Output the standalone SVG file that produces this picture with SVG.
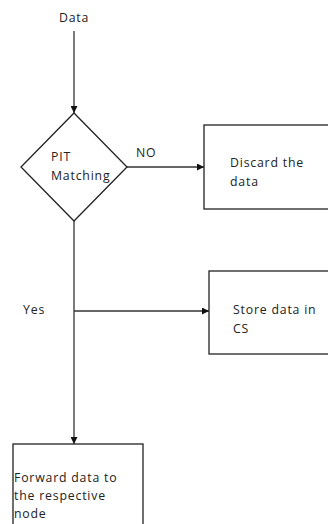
<svg xmlns="http://www.w3.org/2000/svg" width="328" height="524" viewBox="0 0 328 524">
<style>
.t{font-family:"Open Sans","Liberation Sans",sans-serif;font-size:12.3px;letter-spacing:0.8px;fill:#222}
.s{fill:#fff;stroke:#222;stroke-width:1.3}
.c{fill:none;stroke:#333;stroke-width:1.3}
</style>
<defs>
<marker id="a" viewBox="0 0 10 10" refX="10" refY="5" markerWidth="7" markerHeight="7" markerUnits="userSpaceOnUse" orient="auto">
<path d="M0,0L10,5L0,10z" fill="#111"/>
</marker>
</defs>
<rect width="328" height="524" fill="#fff"/>
<g id="connectors">
<line class="c" x1="74" y1="31" x2="74" y2="113" marker-end="url(#a)"/>
<line class="c" x1="127" y1="167" x2="204" y2="167" marker-end="url(#a)"/>
<line class="c" x1="74" y1="221" x2="74" y2="444" marker-end="url(#a)"/>
<line class="c" x1="74" y1="311" x2="209" y2="311" marker-end="url(#a)"/>
</g>
<g id="start"><text class="t" x="59" y="22">Data</text></g>
<g id="pit">
<polygon class="s" points="74,113 127,167 74,221 21,167"/>
<text class="t" x="51" y="161">PIT</text>
<text class="t" x="51" y="180">Matching</text>
</g>
<g id="no-label"><text class="t" x="136" y="157">NO</text></g>
<g id="yes-label"><text class="t" x="23" y="314">Yes</text></g>
<g id="discard">
<rect class="s" x="204" y="125" width="140" height="84"/>
<text class="t" x="230" y="167">Discard the</text>
<text class="t" x="230" y="186">data</text>
</g>
<g id="store">
<rect class="s" x="209" y="271" width="140" height="83"/>
<text class="t" x="233" y="314">Store data in</text>
<text class="t" x="233" y="333">CS</text>
</g>
<g id="forward">
<rect class="s" x="13" y="444" width="130" height="100"/>
<text class="t" x="14" y="482">Forward data to</text>
<text class="t" x="14" y="500">the respective</text>
<text class="t" x="14" y="518">node</text>
</g>
</svg>
